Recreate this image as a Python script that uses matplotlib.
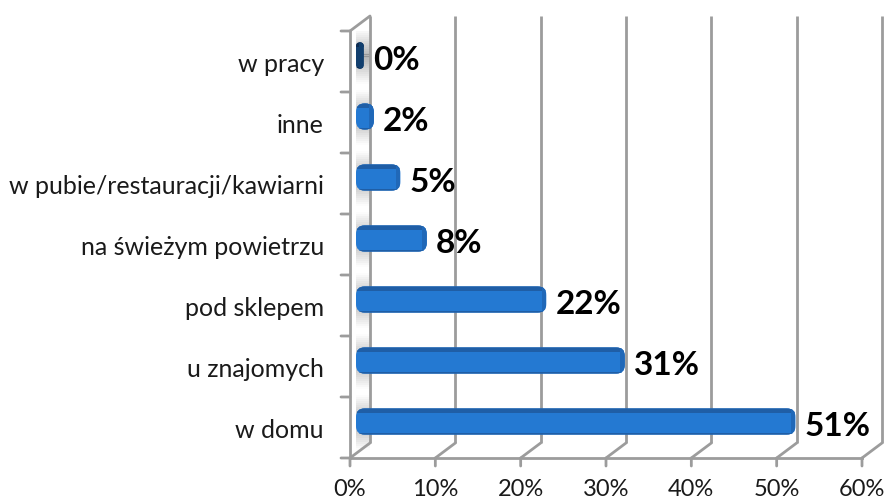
import matplotlib
matplotlib.use("Agg")
import matplotlib.pyplot as plt
import numpy as np
from matplotlib.patches import FancyBboxPatch
from matplotlib.transforms import ScaledTranslation

categories = ["w domu", "u znajomych", "pod sklepem", "na świeżym powietrzu",
              "w pubie/restauracji/kawiarni", "inne", "w pracy"]
values = [51.5, 31.5, 22.3, 8.3, 5.2, 2.1, 0.9]
labels = ["51%", "31%", "22%", "8%", "5%", "2%", "0%"]
bar_colors = ["#2479d2"] * 6 + ["#123f6e"]
edge_colors = ["#1f5ea6"] * 6 + ["#0d2c52"]
cap_colors = ["#2068b8"] * 6 + ["#123f6e"]
xticks = [0, 10, 20, 30, 40, 50, 60]
xticklabels = ["0%", "10%", "20%", "30%", "40%", "50%", "60%"]

plt.rcParams['font.family'] = ['Lato', 'DejaVu Sans']

W, H = 887, 503
fig = plt.figure(figsize=(W / 100, H / 100), dpi=100)
# front plane of the fake 3d box, pixels from the picture
ax = fig.add_axes([350 / W, 1 - 458 / H, 512 / W, 427 / H])
ax.set_xlim(0, 60)
ax.set_ylim(-0.5, 6.5)
ax.axis("off")

grey = "#9c9c9c"

def shift(dx, dy):
    return ax.transData + ScaledTranslation(dx / 100, dy / 100, fig.dpi_scale_trans)

def stub(x, y, dx, dy):
    ax.annotate("", xy=(x, y), xycoords=ax.transData, xytext=(dx, dy), textcoords="offset pixels",
                arrowprops=dict(arrowstyle="-", color=grey, lw=2, shrinkA=0, shrinkB=0))

back = shift(20, 15)
for t, tl in zip(xticks, xticklabels):
    ax.plot([t, t], [-0.5, 6.5], color=grey, lw=2, transform=back, clip_on=False, solid_capstyle="butt")
    stub(t, -0.5, 20, 15)
    stub(t, -0.5, 0, -8)
    ax.annotate(tl, xy=(t, -0.5), xytext=(0, -32), textcoords="offset pixels",
                ha="center", va="center", fontsize=17, color="#1a1a1a", annotation_clip=False)

ax.plot([0, 60], [-0.5, -0.5], color=grey, lw=2, clip_on=False)
ax.plot([0, 0], [-0.5, 6.5], color=grey, lw=2, clip_on=False)

# side wall ticks
for b in np.arange(-0.5, 7, 1):
    stub(0, b, -9, 0)
stub(0, 6.5, 20, 15)

front = shift(6, 6)
bar_h = 0.43
asp = (512 / 60) / 61
for i, (c, v, l, col, ec, cap) in enumerate(zip(categories, values, labels, bar_colors, edge_colors, cap_colors)):
    # soft shadow on the side wall, fades away from the bar
    for k in np.arange(-14, 14):
        a = 0.6 * (1 - abs(k + 0.5) / 14)
        ax.barh(i + k * 0.032, 1.6, height=0.034, color="#808080", alpha=a,
                transform=front, lw=0, zorder=1)
    r = min(1.0, v / 2)
    body = FancyBboxPatch((0, i - bar_h / 2), v, bar_h,
                          boxstyle=f"round,pad=0,rounding_size={r}",
                          mutation_aspect=asp, fc=col, ec="none", transform=front, zorder=3)
    ax.add_patch(body)
    # darker stripes kept inside the rounded bar: top, bottom and right end
    strips = [ax.barh(i + bar_h / 2 - 0.04, v, height=0.08, color=ec, lw=0, transform=front, zorder=4),
              ax.barh(i - bar_h / 2 + 0.01, v, height=0.02, color=ec, lw=0, transform=front, zorder=4),
              ax.barh(i, 0.55, left=v - 0.55, height=bar_h, color=cap, lw=0, transform=front, zorder=4)]
    for s in strips:
        s[0].set_clip_path(body)
    ax.text(0, i, c, ha="right", va="center", fontsize=18, color="#1a1a1a",
            transform=shift(-26, -3), clip_on=False)
    ax.annotate(l, xy=(v, i), xytext=(15, 1), textcoords="offset pixels", ha="left", va="center",
                fontsize=24, fontweight="bold", color="black", zorder=6)

fig.savefig("out.png", dpi=100)
